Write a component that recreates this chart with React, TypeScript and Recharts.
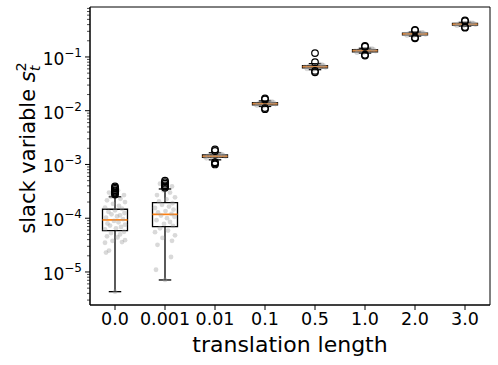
import React from 'react';
import {
  ComposedChart,
  ReferenceArea,
  ReferenceLine,
  Scatter,
  XAxis,
  YAxis,
} from 'recharts';

const categories = ['0.0', '0.001', '0.01', '0.1', '0.5', '1.0', '2.0', '3.0'];

// box statistics per translation length
const medians = [9.3e-5, 1.18e-4, 1.42e-3, 1.35e-2, 0.066, 0.131, 0.268, 0.406];
const lowerQuartiles = [5.9e-5, 7.0e-5, 1.35e-3, 1.29e-2, 0.063, 0.125, 0.258, 0.392];
const upperQuartiles = [1.47e-4, 1.95e-4, 1.5e-3, 1.41e-2, 0.069, 0.137, 0.278, 0.42];
const whiskerLows = [4.3e-6, 7.1e-6, 1.22e-3, 1.2e-2, 0.058, 0.118, 0.245, 0.375];
const whiskerHighs = [2.5e-4, 3.5e-4, 1.65e-3, 1.52e-2, 0.075, 0.145, 0.29, 0.44];

const outliers = [
  [2.75e-4, 2.9e-4, 3.0e-4, 3.15e-4, 3.3e-4, 3.5e-4, 3.7e-4, 3.9e-4],
  [3.7e-4, 3.9e-4, 4.1e-4, 4.4e-4, 4.7e-4, 5.0e-4],
  [1.78e-3, 1.9e-3, 1.1e-3, 1.05e-3, 1.0e-3],
  [1.62e-2, 1.7e-2, 1.12e-2, 1.07e-2],
  [0.08, 0.118, 0.055, 0.052],
  [0.155, 0.16, 0.11, 0.106],
  [0.31, 0.32, 0.23, 0.222],
  [0.465, 0.478, 0.36, 0.35],
];

// raw samples: [horizontal jitter, value]
const samples: [number, number][][] = [
  [
    [-0.18, 2.3e-5], [-0.12, 2.5e-5], [-0.2, 3.5e-5], [-0.05, 3.8e-5], [0.14, 3.6e-5],
    [0.2, 3.9e-5], [-0.16, 4.6e-5], [0.05, 4.4e-5], [0.1, 5.0e-5], [-0.08, 5.3e-5],
    [0.18, 5.6e-5], [-0.2, 6.2e-5], [0.02, 6.5e-5], [0.12, 6.9e-5], [-0.1, 7.3e-5],
    [0.2, 7.6e-5], [-0.15, 8.0e-5], [0.07, 8.4e-5], [-0.02, 8.9e-5], [0.16, 9.6e-5],
    [-0.18, 1.02e-4], [0.04, 1.08e-4], [0.1, 1.13e-4], [-0.07, 1.18e-4], [0.19, 1.25e-4],
    [-0.13, 1.32e-4], [0.0, 1.4e-4], [0.14, 1.5e-4], [-0.2, 1.58e-4], [0.08, 1.7e-4],
    [-0.04, 1.85e-4], [0.2, 2.0e-4], [-0.16, 2.15e-4], [0.11, 2.3e-4], [-0.08, 2.5e-4],
    [0.18, 2.7e-4], [-0.12, 3.0e-4], [0.06, 3.3e-4], [0.0, 4.3e-6],
  ],
  [
    [0.0, 7.1e-6], [-0.18, 1.1e-5], [0.12, 1.9e-5], [-0.15, 3.2e-5], [0.14, 3.8e-5],
    [-0.05, 4.3e-5], [0.2, 4.8e-5], [-0.2, 5.5e-5], [0.06, 5.9e-5], [-0.1, 6.5e-5],
    [0.16, 7.2e-5], [-0.02, 7.8e-5], [0.1, 8.5e-5], [-0.17, 9.2e-5], [0.04, 1.0e-4],
    [0.19, 1.06e-4], [-0.08, 1.12e-4], [0.13, 1.2e-4], [-0.14, 1.28e-4], [0.01, 1.36e-4],
    [0.17, 1.45e-4], [-0.2, 1.55e-4], [0.08, 1.65e-4], [-0.06, 1.78e-4], [0.15, 1.9e-4],
    [-0.12, 2.05e-4], [0.03, 2.25e-4], [0.2, 2.45e-4], [-0.16, 2.7e-4], [0.1, 3.0e-4],
    [-0.03, 3.3e-4], [0.14, 3.9e-4], [-0.1, 4.4e-4],
  ],
  [
    [-0.2, 1.38e-3], [-0.14, 1.44e-3], [-0.08, 1.4e-3], [-0.02, 1.47e-3], [0.04, 1.36e-3],
    [0.1, 1.43e-3], [0.16, 1.5e-3], [0.21, 1.41e-3], [-0.17, 1.3e-3], [0.13, 1.56e-3],
    [-0.05, 1.25e-3], [0.07, 1.6e-3],
  ],
  [
    [-0.2, 1.32e-2], [-0.13, 1.37e-2], [-0.07, 1.34e-2], [0.0, 1.4e-2], [0.05, 1.3e-2],
    [0.11, 1.36e-2], [0.17, 1.43e-2], [0.21, 1.33e-2], [-0.16, 1.25e-2], [0.14, 1.47e-2],
    [-0.04, 1.21e-2], [0.08, 1.5e-2],
  ],
  [
    [-0.2, 0.065], [-0.13, 0.067], [-0.07, 0.064], [0.0, 0.068], [0.05, 0.062],
    [0.11, 0.066], [0.17, 0.07], [0.21, 0.064], [-0.16, 0.06], [0.14, 0.072],
    [-0.04, 0.058], [0.08, 0.074],
  ],
  [
    [-0.2, 0.129], [-0.13, 0.133], [-0.07, 0.127], [0.0, 0.135], [0.05, 0.124],
    [0.11, 0.131], [0.17, 0.138], [0.21, 0.128], [-0.16, 0.12], [0.14, 0.142],
    [-0.04, 0.118], [0.08, 0.145],
  ],
  [
    [-0.2, 0.265], [-0.13, 0.271], [-0.07, 0.262], [0.0, 0.275], [0.05, 0.256],
    [0.11, 0.268], [0.17, 0.281], [0.21, 0.263], [-0.16, 0.25], [0.14, 0.287],
    [-0.04, 0.246], [0.08, 0.29],
  ],
  [
    [-0.2, 0.4], [-0.13, 0.41], [-0.07, 0.397], [0.0, 0.415], [0.05, 0.39],
    [0.11, 0.406], [0.17, 0.425], [0.21, 0.398], [-0.16, 0.382], [0.14, 0.432],
    [-0.04, 0.376], [0.08, 0.44],
  ],
];

const majorTicks = [1e-5, 1e-4, 1e-3, 1e-2, 1e-1];
const yDomain = [2.43e-6, 0.85];
const xDomain = [0.5, 8.5];

const FONT = 'DejaVu Sans';
const BOX_HALF = 0.25;
const CAP_HALF = 0.125;
const LINE_W = 1.3;

// log minor ticks 2..9 per decade inside the domain
const minorTicks: number[] = [];
[1e-6, ...majorTicks].forEach((d) => {
  for (let m = 2; m < 10; m++) {
    const v = d * m;
    if (v >= yDomain[0] && v <= yDomain[1]) minorTicks.push(v);
  }
});
const yTicks = [...majorTicks, ...minorTicks].sort((a, b) => a - b);

const positions = categories.map((_, i) => i + 1);
const sampleData = samples.flatMap((pts, i) =>
  pts.map(([dx, v]) => ({ x: i + 1 + dx, y: v })),
);
const flierData = outliers.flatMap((vals, i) => vals.map((v) => ({ x: i + 1, y: v })));

const LogTick = (props: any) => {
  const { x, y, payload } = props;
  const lg = Math.log10(payload.value);
  const exp = Math.round(lg);
  const isMajor = Math.abs(lg - exp) < 1e-6;
  return (
    <g>
      <line
        x1={x - (isMajor ? 5 : 3)}
        x2={x}
        y1={y}
        y2={y}
        stroke='#000'
        strokeWidth={isMajor ? 1 : 0.7}
      />
      {isMajor && (
        <text
          x={x - 8}
          y={y + 8}
          textAnchor='end'
          fontFamily={FONT}
          fontSize={17}
          fill='#000'
        >
          10
          <tspan dy={-8} fontSize={12}>
            {'\u2212' + Math.abs(exp)}
          </tspan>
        </text>
      )}
    </g>
  );
};

const XTitle = () => (
  <text x={290} y={352} textAnchor='middle' fontFamily={FONT} fontSize={22} fill='#000'>
    translation length
  </text>
);

const YTitle = () => (
  <text
    x={35}
    y={148}
    transform='rotate(-90 35 148)'
    textAnchor='middle'
    fontFamily={FONT}
    fontSize={21}
    fill='#000'
  >
    slack variable{' '}
    <tspan fontStyle='italic'>s</tspan>
    <tspan fontSize={14.5} fontStyle='italic' dy={5}>
      t
    </tspan>
    <tspan fontSize={14.5} dx={-6} dy={-14}>
      2
    </tspan>
  </text>
);

export default function App() {
  return (
    <div style={{ position: 'absolute', left: 0, top: 0, width: 498, height: 365, background: '#fff' }}>
      <ComposedChart
        width={498}
        height={365}
        margin={{ top: 7, right: 8, bottom: 0, left: 0 }}
      >
        <XAxis
          dataKey='x'
          type='number'
          domain={xDomain}
          ticks={positions}
          interval={0}
          tickFormatter={(v) => categories[v - 1]}
          height={60}
          tickSize={5}
          tickMargin={3}
          stroke='#000'
          tick={{ fill: '#000', fontSize: 17.5, fontFamily: FONT }}
          label={{ content: XTitle }}
        />
        <YAxis
          dataKey='y'
          type='number'
          scale='log'
          domain={yDomain}
          allowDataOverflow
          ticks={yTicks}
          interval={0}
          width={90}
          tickSize={0}
          tickMargin={0}
          tickLine={false}
          stroke='#000'
          tick={<LogTick />}
          label={{ content: YTitle }}
        />

        {/* axes frame */}
        <ReferenceArea
          x1={xDomain[0]}
          x2={xDomain[1]}
          y1={yDomain[0]}
          y2={yDomain[1]}
          fill='none'
          fillOpacity={0}
          stroke='#000'
          strokeWidth={1}
          strokeOpacity={1}
        />

        <Scatter
          data={sampleData}
          isAnimationActive={false}
          shape={(p: any) => <circle cx={p.cx} cy={p.cy} r={2.4} fill='#9a9a9a' fillOpacity={0.38} />}
        />

        {positions.map((pos, i) => (
          <React.Fragment key={categories[i]}>
            <ReferenceArea
              x1={pos - BOX_HALF}
              x2={pos + BOX_HALF}
              y1={lowerQuartiles[i]}
              y2={upperQuartiles[i]}
              fill='none'
              fillOpacity={0}
              stroke='#000'
              strokeWidth={LINE_W}
              strokeOpacity={1}
            />
            <ReferenceLine
              segment={[{ x: pos, y: upperQuartiles[i] }, { x: pos, y: whiskerHighs[i] }]}
              stroke='#000'
              strokeWidth={LINE_W}
            />
            <ReferenceLine
              segment={[{ x: pos, y: lowerQuartiles[i] }, { x: pos, y: whiskerLows[i] }]}
              stroke='#000'
              strokeWidth={LINE_W}
            />
            <ReferenceLine
              segment={[{ x: pos - CAP_HALF, y: whiskerHighs[i] }, { x: pos + CAP_HALF, y: whiskerHighs[i] }]}
              stroke='#000'
              strokeWidth={LINE_W}
            />
            <ReferenceLine
              segment={[{ x: pos - CAP_HALF, y: whiskerLows[i] }, { x: pos + CAP_HALF, y: whiskerLows[i] }]}
              stroke='#000'
              strokeWidth={LINE_W}
            />
            <ReferenceLine
              segment={[{ x: pos - BOX_HALF, y: medians[i] }, { x: pos + BOX_HALF, y: medians[i] }]}
              stroke='#ff7f0e'
              strokeWidth={1.7}
            />
          </React.Fragment>
        ))}

        <Scatter
          data={flierData}
          isAnimationActive={false}
          shape={(p: any) => (
            <circle cx={p.cx} cy={p.cy} r={3.3} fill='none' stroke='#000' strokeWidth={1.2} />
          )}
        />
      </ComposedChart>
    </div>
  );
}
